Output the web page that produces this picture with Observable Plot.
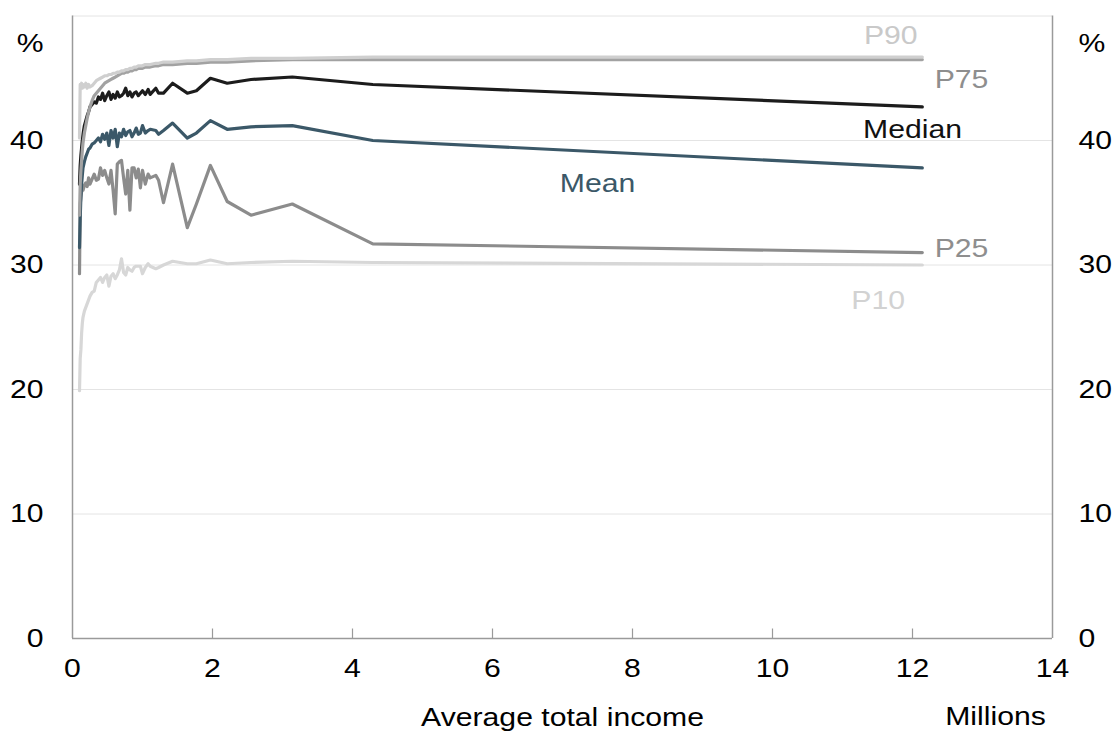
<!DOCTYPE html>
<html>
<head>
<meta charset="utf-8">
<script src="https://cdn.jsdelivr.net/npm/d3@7"></script>
<script src="https://cdn.jsdelivr.net/npm/@observablehq/plot@0.6"></script>
<style>
  html, body { margin: 0; padding: 0; background: #ffffff; }
  #chart svg { display: block; }
</style>
</head>
<body>
<div id="chart"></div>
<script>
// Average total income of each group, in millions
const income = [
  0.10, 0.11, 0.12, 0.13, 0.14, 0.15, 0.17, 0.19, 0.21, 0.23, 0.25, 0.28, 0.31, 0.34, 0.37, 0.40,
  0.43, 0.46, 0.49, 0.52, 0.55, 0.58, 0.61, 0.64, 0.67, 0.70, 0.73, 0.76, 0.79, 0.82, 0.85, 0.88,
  0.91, 0.94, 0.97, 1.00, 1.04, 1.08,
  1.11, 1.19, 1.23, 1.30, 1.43, 1.64, 1.77, 1.97, 2.21, 2.55, 3.14, 4.29, 12.14
];

// Rates (%) by income group
const p90 = [
  40.2, 44.5, 44.3, 44.6, 44.2, 44.5, 44.3, 44.6, 44.2, 44.5, 44.3, 44.4, 44.6, 44.8, 44.9, 45.0,
  45.1, 45.2, 45.2, 45.3, 45.3, 45.4, 45.4, 45.5, 45.5, 45.6, 45.6, 45.7, 45.7, 45.8, 45.8, 45.9,
  45.9, 46.0, 46.0, 46.0, 46.1, 46.1,
  46.1, 46.2, 46.2, 46.3, 46.3, 46.4, 46.4, 46.5, 46.5, 46.6, 46.6, 46.7, 46.7
];
const p75 = [
  34.0, 36.5, 37.6, 38.4, 39.2, 39.8, 40.6, 41.2, 41.8, 42.3, 42.7, 43.2, 43.6, 43.8, 44.0, 44.2,
  44.4, 44.6, 44.7, 44.8, 44.9, 45.0, 45.1, 45.2, 45.3, 45.4, 45.4, 45.5, 45.5, 45.6, 45.6, 45.7,
  45.7, 45.8, 45.8, 45.8, 45.9, 45.9,
  45.9, 46.0, 46.0, 46.1, 46.1, 46.2, 46.2, 46.3, 46.3, 46.4, 46.5, 46.5, 46.5
];
const median = [
  36.5, 38.0, 38.8, 39.4, 40.0, 40.5, 41.2, 41.6, 42.0, 42.3, 42.7, 42.9, 43.1, 43.0, 43.5, 43.3,
  43.8, 43.2, 43.6, 43.9, 43.3, 43.7, 43.4, 43.9, 43.5, 43.6, 43.8, 44.2, 43.6, 43.9, 43.5, 43.8,
  43.9, 43.6, 43.8, 44.0, 43.7, 44.1,
  43.7, 44.2, 43.8, 43.8, 44.6, 43.8, 44.0, 45.0, 44.6, 44.9, 45.1, 44.5, 42.7
];
const mean = [
  31.4, 33.8, 35.5, 36.5, 37.2, 37.8, 38.3, 38.7, 39.0, 39.3, 39.4, 39.7, 39.8, 40.0, 40.2, 39.9,
  40.5, 40.1, 40.6, 39.6, 40.8, 40.2, 40.9, 39.5, 40.6, 40.3, 40.9, 40.4, 40.7, 40.8, 40.3, 40.6,
  41.0, 40.5, 40.6, 41.2, 40.6, 40.8,
  40.9, 40.8, 40.5, 40.8, 41.4, 40.2, 40.6, 41.6, 40.9, 41.1, 41.2, 40.0, 37.8
];
const p25 = [
  29.3, 34.9, 35.4, 35.9, 36.2, 36.0, 36.4, 36.6, 36.3, 37.0, 36.5, 36.9, 37.3, 36.8, 36.9, 37.8,
  37.2, 37.6, 37.0, 36.5, 37.6, 36.0, 34.1, 38.1, 38.3, 38.4, 37.0, 35.7, 37.6, 34.4, 37.8, 37.8,
  37.0, 37.7, 36.2, 37.6, 36.5, 37.3,
  37.0, 37.2, 36.8, 35.0, 38.1, 33.0, 34.9, 38.0, 35.1, 34.0, 34.9, 31.7, 31.0
];
const p10 = [
  19.9, 22.5, 23.2, 24.5, 25.3, 25.8, 26.3, 26.6, 26.9, 27.2, 27.5, 27.8, 27.9, 28.6, 28.8, 29.0,
  28.6, 29.0, 29.2, 28.3, 29.1, 29.3, 28.9, 29.2, 29.6, 30.5, 29.4, 29.2, 29.8, 29.6, 29.5, 29.8,
  29.9, 29.9, 29.9, 29.3, 29.8, 30.1,
  29.9, 29.7, 29.8, 30.0, 30.3, 30.1, 30.1, 30.4, 30.1, 30.2, 30.3, 30.2, 30.0
];

// Series, drawn back to front
const seriesNames = ["P10", "P25", "Mean", "Median", "P75", "P90"];
const seriesValues = [p10, p25, mean, median, p75, p90];
const seriesColors = ["#d7d7d7", "#8c8c8c", "#3b5868", "#1c1c1c", "#a2a2a2", "#cfcfcf"];

// Series labels placed beside the lines (millions, %)
const labelNames = ["P90", "P75", "Median", "Mean", "P25", "P10"];
const labelX = [11.69, 12.70, 12.00, 7.50, 12.70, 11.51];
const labelY = [48.4, 44.9, 40.9, 36.5, 31.3, 27.1];
const labelColors = ["#c9c9c9", "#8e8e8e", "#111111", "#3b5868", "#8e8e8e", "#d2d2d2"];

// Axis ticks
const xTicks = [0, 2, 4, 6, 8, 10, 12, 14];
const yTicks = [0, 10, 20, 30, 40];
const gridLines = [10, 20, 30, 40, 50];

const rows = seriesNames.flatMap((name, s) =>
  income.map((x, i) => ({series: name, income: x, value: seriesValues[s][i]}))
);
const labels = labelNames.map((name, i) => ({name, x: labelX[i], y: labelY[i], color: labelColors[i]}));

const FONT = 26;
const svg = Plot.plot({
  width: 1117,
  height: 733,
  marginLeft: 72,
  marginRight: 65,
  marginTop: 15.5,
  marginBottom: 95,
  style: {fontFamily: "'Liberation Sans', Arial, sans-serif", background: "#ffffff", overflow: "visible"},
  x: {domain: [0, 14], label: null},
  y: {domain: [0, 50], label: null},
  color: {domain: seriesNames, range: seriesColors},
  marks: [
    Plot.ruleY(gridLines, {stroke: "#e4e4e4", strokeWidth: 1}),
    Plot.ruleX([0, 14], {stroke: "#9a9a9a", strokeWidth: 1.5}),
    Plot.ruleY([0], {stroke: "#9a9a9a", strokeWidth: 1.5}),
    Plot.tickX(xTicks.slice(1, -1), {stroke: "#9a9a9a", strokeWidth: 1.2, insetTop: 613}),
    Plot.axisX({ticks: xTicks, tickSize: 0, tickPadding: 20, fontSize: FONT, label: null, tickFormat: d => d}),
    Plot.axisY({anchor: "left", ticks: yTicks, tickSize: 0, tickPadding: 29, fontSize: FONT, label: null, tickFormat: d => d}),
    Plot.axisY({anchor: "right", ticks: yTicks, tickSize: 0, tickPadding: 26, fontSize: FONT, label: null, tickFormat: d => d}),
    Plot.line(rows, {x: "income", y: "value", z: "series", stroke: "series", strokeWidth: 3.2, strokeLinejoin: "round"}),
    Plot.text(labels, {x: "x", y: "y", text: "name", fill: "color", fontSize: FONT}),
    Plot.text(["%"], {frameAnchor: "top-left", dx: -29, dy: 17.5, textAnchor: "end", fontSize: FONT}),
    Plot.text(["%"], {frameAnchor: "top-right", dx: 26, dy: 17.5, textAnchor: "start", fontSize: FONT}),
    Plot.text(["Average total income"], {frameAnchor: "bottom", dx: 0, dy: 87, textAnchor: "middle", fontSize: FONT}),
    Plot.text(["Millions"], {frameAnchor: "bottom-right", dx: -57, dy: 86, textAnchor: "middle", fontSize: FONT})
  ]
});

document.getElementById("chart").append(svg);

// Widen the lettering slightly so the labels keep their broad proportions
svg.querySelectorAll("text").forEach(t => {
  const len = t.getComputedTextLength();
  if (len > 0) {
    t.setAttribute("textLength", (len * 1.16).toFixed(1));
    t.setAttribute("lengthAdjust", "spacingAndGlyphs");
  }
});
</script>
</body>
</html>
